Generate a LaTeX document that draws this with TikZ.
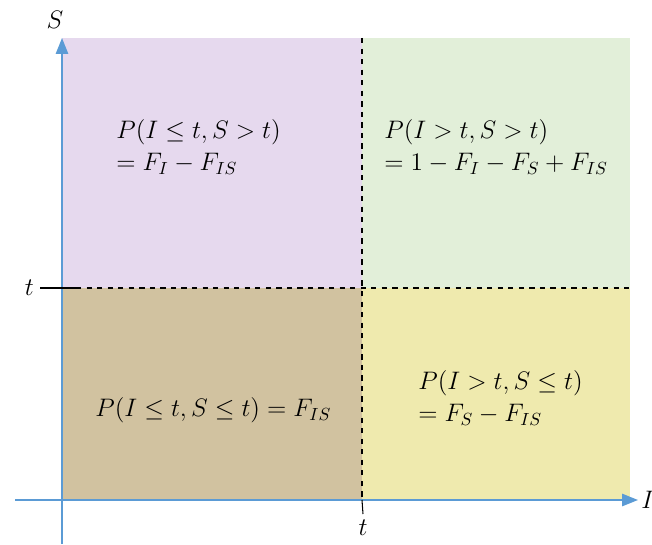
\documentclass[tikz,border=0pt]{standalone}
\usepackage{amsmath}
\usetikzlibrary{arrows.meta}

\definecolor{axisblue}{RGB}{91,155,213}
\definecolor{lilac}{RGB}{230,217,238}
\definecolor{mint}{RGB}{226,239,217}
\definecolor{tan}{RGB}{209,194,160}
\definecolor{straw}{RGB}{239,234,174}

\begin{document}
\begin{tikzpicture}[
        x=0.02cm, y=-0.02cm,
        ax/.style={draw=axisblue,line width=0.8pt,-{Triangle[length=9pt,width=7pt]}},
        lab/.style={font=\Large},
        prob/.style={font=\Large,align=left,anchor=west,inner sep=0pt},
        cut/.style={dashed,line width=0.6pt},
        tick/.style={line width=0.6pt}
    ]

    \useasboundingbox (0,0) rectangle (652,544);

    % the four regions
    \fill[lilac] (62,38) rectangle (362,288);
    \fill[mint] (362,38) rectangle (630,288);
    \fill[tan] (62,288) rectangle (362,500);
    \fill[straw] (362,288) rectangle (630,500);

    % axes
    \coordinate (ybot) at (62,544);
    \coordinate (ytop) at (62,38);
    \coordinate (xleft) at (15,500);
    \coordinate (xright) at (638,500);
    \draw[ax] (ybot) -- (ytop);
    \draw[ax] (xleft) -- (xright);
    \node[lab] (S) at (55,20) {$S$};
    \node[lab,anchor=west,inner sep=0pt] (I) at (641,500) {$I$};

    % threshold lines
    \node[lab,anchor=east] (ty) at (40,288) {$t$};
    \node[lab,anchor=north] (tx) at (363,514) {$t$};
    \coordinate (hend) at (632,288);
    \coordinate (htick) at (76,288);
    \coordinate (vtop) at (362,38);
    \coordinate (vtick) at (362,500);
    \draw[tick] (ty.east) -- (htick);
    \draw[cut] (htick) -- (hend);
    \draw[cut] (vtop) -- (vtick);
    \draw[tick] (vtick) -- (tx.north);

    % probabilities
    \node[prob] (pa) at (116,147) {$P(I\le t,S>t)$\\$=F_I-F_{IS}$};
    \node[prob] (pb) at (384,147) {$P(I>t,S>t)$\\$=1-F_I-F_S+F_{IS}$};
    \node[prob] (pc) at (95,410) {$P(I\le t,S\le t)=F_{IS}$};
    \node[prob] (pd) at (418,398) {$P(I>t,S\le t)$\\$=F_S-F_{IS}$};

\end{tikzpicture}
\end{document}
